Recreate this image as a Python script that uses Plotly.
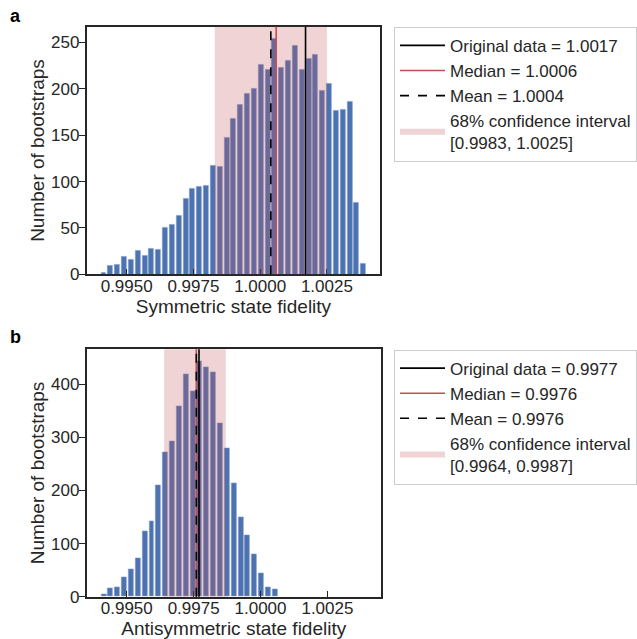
import numpy as np
import plotly.graph_objects as go

# ---- data ----
bin_lo = 0.99401        # left edge of first histogram bin
bin_width = 0.000256    # histogram bin width
sym_counts = [2, 9, 10, 19, 16, 25, 20, 28, 27, 50, 53, 63, 81, 92, 95, 96, 117, 116,
              147, 168, 183, 195, 200, 226, 221, 254, 223, 230, 247, 221, 233, 237,
              198, 206, 176, 177, 186, 77, 11]
anti_counts = [5, 15, 18, 36, 51, 73, 123, 142, 209, 272, 293, 359, 419, 387, 443,
               432, 423, 326, 279, 213, 149, 115, 79, 45, 18, 14]

sym_stats = dict(orig=1.0017, median=1.0006, mean=1.0004, ci=(0.9983, 1.0025))
anti_stats = dict(orig=0.9977, median=0.9976, mean=0.9976, ci=(0.9964, 0.9987))

xticks = [0.9950, 0.9975, 1.0000, 1.0025]
sym_yticks = [0, 50, 100, 150, 200, 250]
anti_yticks = [0, 100, 200, 300, 400]
xlabels = ["Symmetric state fidelity", "Antisymmetric state fidelity"]
panel_labels = ["a", "b"]

# ---- style ----
BLUE = "#4C72B0"
RED = "#C44E52"
PINK = "rgba(196,78,82,0.25)"
TXT = "#262626"
FONT = "Liberation Sans, Arial, sans-serif"

fig = go.Figure()


def centers(n):
    return [bin_lo + bin_width * (i + 0.5) for i in range(n)]


panels = [
    dict(counts=sym_counts, st=sym_stats, yt=sym_yticks, yr=[0, 267],
         xa="x", ya="y", legend="legend", xd=[0.136, 0.597], yd=[0.5707, 0.9582]),
    dict(counts=anti_counts, st=anti_stats, yt=anti_yticks, yr=[0, 466],
         xa="x2", ya="y2", legend="legend2", xd=[0.136, 0.598], yd=[0.0662, 0.4534]),
]

shapes = []
for k, p in enumerate(panels):
    st = p["st"]
    fig.add_trace(go.Bar(x=centers(len(p["counts"])), y=p["counts"],
                         width=bin_width * 0.72,
                         marker=dict(color=BLUE, line=dict(width=0.6, color="#7f9ccc")),
                         xaxis=p["xa"], yaxis=p["ya"], showlegend=False, hoverinfo="skip"))
    xref = p["xa"]
    yref = p["ya"] + " domain"
    shapes.append(dict(type="rect", xref=xref, yref=yref, x0=st["ci"][0], x1=st["ci"][1],
                       y0=0, y1=1, fillcolor=PINK, line=dict(width=0), layer="above"))
    shapes.append(dict(type="line", xref=xref, yref=yref, x0=st["median"], x1=st["median"],
                       y0=0, y1=1, line=dict(color=RED, width=1.6), layer="above"))
    shapes.append(dict(type="line", xref=xref, yref=yref, x0=st["orig"], x1=st["orig"],
                       y0=0, y1=1, line=dict(color="black", width=1.6), layer="above"))
    shapes.append(dict(type="line", xref=xref, yref=yref, x0=st["mean"], x1=st["mean"],
                       y0=0, y1=1, line=dict(color="black", width=1.6, dash="dash"), layer="above"))
    # legend entries
    fig.add_trace(go.Scatter(x=[None], y=[None], mode="lines", line=dict(color="black", width=1.6),
                             name=f"Original data = {st['orig']:.4f}", legend=p["legend"],
                             xaxis=p["xa"], yaxis=p["ya"]))
    fig.add_trace(go.Scatter(x=[None], y=[None], mode="lines", line=dict(color=RED, width=1.6),
                             name=f"Median = {st['median']:.4f}", legend=p["legend"],
                             xaxis=p["xa"], yaxis=p["ya"]))
    fig.add_trace(go.Scatter(x=[None], y=[None], mode="lines",
                             line=dict(color="black", width=1.6, dash="dash"),
                             name=f"Mean = {st['mean']:.4f}", legend=p["legend"],
                             xaxis=p["xa"], yaxis=p["ya"]))
    fig.add_trace(go.Scatter(x=[None, None, None], y=[None, None, None], mode="none",
                             fill="toself", fillcolor=PINK,
                             name=f"68% confidence interval<br>[{st['ci'][0]:.4f}, {st['ci'][1]:.4f}]",
                             legend=p["legend"], xaxis=p["xa"], yaxis=p["ya"]))

axis_common = dict(showline=True, mirror=True, linecolor=TXT, linewidth=1.6,
                   showgrid=False, zeroline=False, tickcolor=TXT, tickwidth=1.4,
                   ticklen=6, automargin=False,
                   tickfont=dict(size=17, color=TXT, family=FONT))

layout = dict(
    width=637, height=639, margin=dict(l=0, r=0, t=0, b=0),
    paper_bgcolor="white", plot_bgcolor="white",
    font=dict(family=FONT, color=TXT), bargap=0,
    shapes=shapes,
)
for k, p in enumerate(panels):
    sx = "" if k == 0 else "2"
    layout["xaxis" + sx] = dict(axis_common, domain=p["xd"], range=[0.9935, 1.0045],
                                tickvals=xticks, tickformat=".4f", ticks="inside",
                                anchor="y" + sx, ticklabelstandoff=-5,
                                title=dict(text=xlabels[k], font=dict(size=19, color=TXT, family=FONT),
                                           standoff=1))
    layout["yaxis" + sx] = dict(axis_common, domain=p["yd"], range=p["yr"], tickvals=p["yt"],
                                ticks="outside", anchor="x" + sx, ticklabelstandoff=-4,
                                title=dict(text="Number of bootstraps",
                                           font=dict(size=19, color=TXT, family=FONT), standoff=1))
    layout["legend" + sx] = dict(x=0.619, y=[0.958, 0.453][k], xanchor="left", yanchor="top",
                                 bordercolor="#cccccc", borderwidth=1, bgcolor="white",
                                 font=dict(size=17, color=TXT, family=FONT),
                                 itemwidth=45, tracegroupgap=0)

fig.update_layout(**layout)

for k, lab in enumerate(panel_labels):
    fig.add_annotation(text=f"<b>{lab}</b>", xref="paper", yref="paper",
                       x=0.012, y=[0.993, 0.492][k], xanchor="left", yanchor="top",
                       showarrow=False, font=dict(size=18, color="black", family=FONT))

fig.write_html("out.html", config={"displayModeBar": False},
               post_script="document.body.style.margin='0px';")
